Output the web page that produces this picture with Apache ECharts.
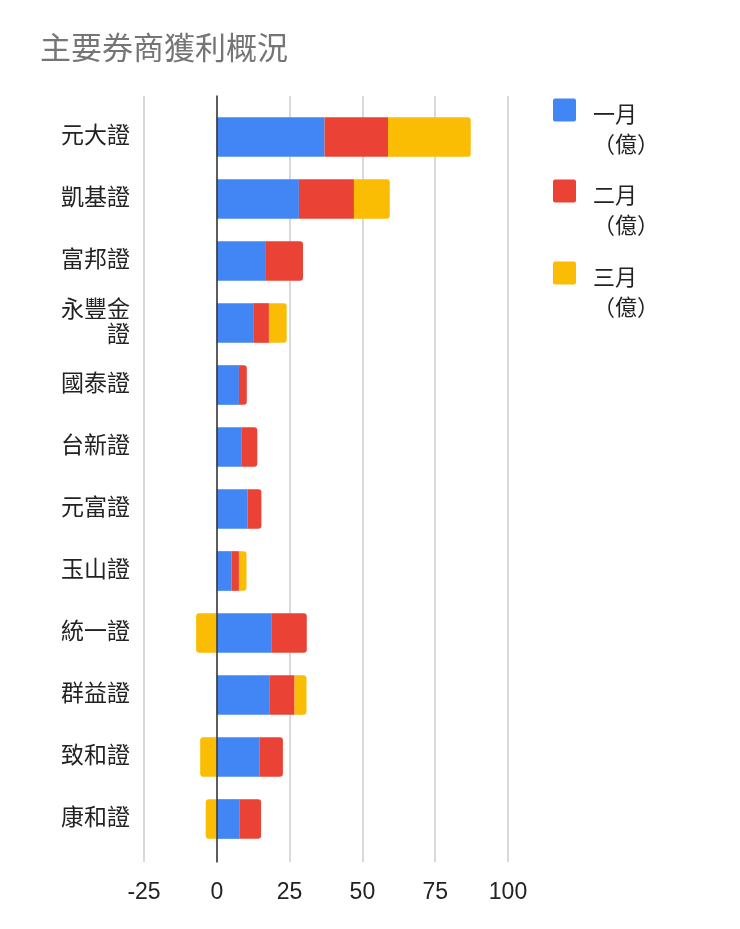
<!DOCTYPE html>
<html>
<head>
<meta charset="utf-8">
<script src="https://cdn.jsdelivr.net/npm/echarts@6/dist/echarts.min.js"></script>
<style>
  html, body { margin: 0; padding: 0; background: #fff; }
  #chart { width: 740px; height: 929px; }
</style>
</head>
<body>
<div id="chart"></div>
<script>
  // 券商名稱
  var brokers = ['元大證', '凱基證', '富邦證', '永豐金證', '國泰證', '台新證', '元富證', '玉山證', '統一證', '群益證', '致和證', '康和證'];
  // 各月獲利（億）
  var janProfit = [37.0, 28.2, 16.6, 12.5, 7.6, 8.4, 10.5, 5.0, 18.7, 18.0, 14.6, 7.9];
  var febProfit = [21.8, 18.9, 13.0, 5.4, 2.7, 5.5, 4.8, 2.6, 12.2, 8.7, 8.1, 7.3];
  var marProfit = [28.4, 12.3, 0, 6.1, 0, 0, 0, 2.6, -7.1, 4.1, -5.7, -3.8];
  var seriesNames = ['一月（億）', '二月（億）', '三月（億）'];
  var xTicks = [-25, 0, 25, 50, 75, 100];

  var colors = ['#4285F4', '#EA4335', '#FBBC04'];
  var font = 'Arial, "Liberation Sans", "Noto Sans CJK TC", sans-serif';
  // 小圓角方塊
  var legendIcon = 'path://M2,0H21A2,2,0,0,1,23,2V21A2,2,0,0,1,21,23H2A2,2,0,0,1,0,21V2A2,2,0,0,1,2,0Z';

  //最後一段加上圓角
  function endRadius(values, isLast) {
    return values.map(function (v, i) {
      var r = 0;
      if (isLast(i)) r = v < 0 ? [3, 0, 0, 3] : [0, 3, 3, 0];
      return { value: v, itemStyle: { borderRadius: r } };
    });
  }

  // 每個圖例各自定位，文字第一行對齊方塊
  var legendTops = [79, 160, 242];
  var legends = seriesNames.map(function (name, i) {
    return {
      orient: 'vertical',
      left: 553,
      top: legendTops[i],
      padding: 0,
      itemWidth: 23,
      itemHeight: 23,
      selectedMode: false,
      data: [{ name: name, icon: legendIcon }],
      formatter: function (n) {
        var p = n.split('（');
        return '{s| }\n{t|' + p[0] + '}\n{t|（' + p[1] + '}';
      },
      textStyle: {
        fontFamily: font,
        fontSize: 22,
        color: '#222',
        padding: [0, 0, 0, 12],
        rich: {
          s: { fontSize: 2, lineHeight: 41 },
          t: { fontFamily: font, fontSize: 22, lineHeight: 30, color: '#222' }
        }
      }
    };
  });

  var chart = echarts.init(document.getElementById('chart'));
  var option = {
    backgroundColor: '#fff',
    color: colors,
    title: {
      text: '主要券商獲利概況',
      left: 40,
      top: 35,
      padding: 0,
      textStyle: { fontFamily: font, fontSize: 31, lineHeight: 31, fontWeight: 'normal', color: '#757575' }
    },
    legend: legends,
    grid: [
      { left: 144, right: 232, top: 106, bottom: 79 },
      { left: 144, right: 232, top: 96, bottom: 67 }
    ],
    xAxis: [
      { type: 'value', gridIndex: 0, min: -25, max: 100, interval: 25, show: false },
      {
        type: 'value', gridIndex: 1, min: xTicks[0], max: xTicks[xTicks.length - 1], interval: 25,
        axisLine: { show: false },
        axisTick: { show: false },
        axisLabel: { margin: 19, fontFamily: font, fontSize: 23, color: '#222' },
        splitLine: { show: true, lineStyle: { color: '#cccccc', width: 1.5 } }
      }
    ],
    yAxis: [
      {
        type: 'category', gridIndex: 0, data: brokers, inverse: true,
        axisLine: { show: false },
        axisTick: { show: false },
        axisLabel: {
          margin: 14, fontFamily: font, fontSize: 23, lineHeight: 25, color: '#222',
          formatter: function (v) { return v.length > 3 ? v.slice(0, 3) + '\n' + v.slice(3) : v; }
        }
      },
      {
        type: 'value', gridIndex: 1, min: 0, max: 1, z: 10,
        axisLine: { show: true, onZero: true, lineStyle: { color: '#333', width: 1.5 } },
        axisTick: { show: false },
        axisLabel: { show: false },
        splitLine: { show: false }
      }
    ],
    series: [
      {
        name: seriesNames[0], type: 'bar', stack: 'total', barCategoryGap: '36%',
        data: janProfit
      },
      {
        name: seriesNames[1], type: 'bar', stack: 'total',
        data: endRadius(febProfit, function (i) { return marProfit[i] <= 0; })
      },
      {
        name: seriesNames[2], type: 'bar', stack: 'total',
        data: endRadius(marProfit, function () { return true; })
      }
    ]
  };
  chart.setOption(option);
</script>
</body>
</html>
